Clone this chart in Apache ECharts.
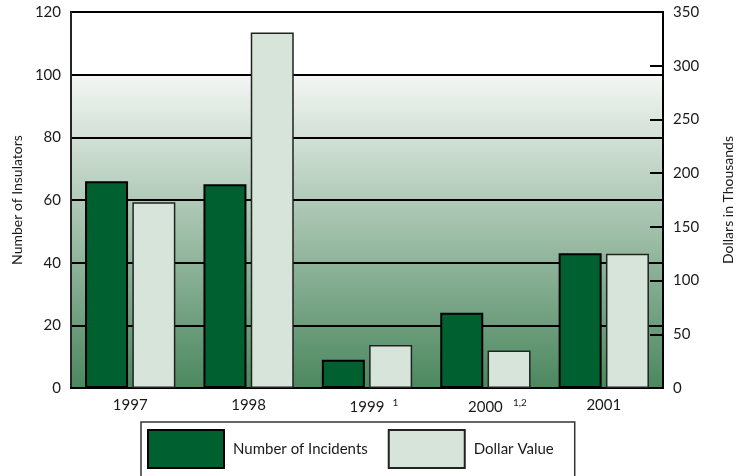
<!DOCTYPE html>
<html>
<head>
<meta charset="utf-8">
<script src="https://cdn.jsdelivr.net/npm/echarts@6/dist/echarts.min.js"></script>
<style>
  html, body { margin: 0; padding: 0; background: #ffffff; }
  #chart { width: 736px; height: 476px; }
</style>
</head>
<body>
<div id="chart"></div>
<script>
// Insulator vandalism by year: count of insulators (left axis) and dollar loss (right axis)
const years = ['1997', '1998', '1999', '2000', '2001'];
const footnotes = ['', '', '1', '1,2', ''];
const incidents = [66, 65, 9, 24, 43];
const dollarValue = [173, 331, 40, 35, 125];
const leftTicks = { min: 0, max: 120, interval: 20 };
const rightTicks = { min: 0, max: 350, interval: 50 };

const FONT = 'Lato';
const TEXT = '#1a1a1a';
const DARK = '#00602f';
const LIGHT = '#d6e4da';

const chart = echarts.init(document.getElementById('chart'), null, { renderer: 'canvas' });

function yearLabel(value, index) {
  const note = footnotes[index];
  if (!note) return value;
  const key = note.length > 1 ? '2' : '1';
  return '{p' + key + '|}' + value + '{s' + key + '|' + note + '}';
}

const supStyle = {
  fontFamily: FONT, fontSize: 10, color: TEXT,
  align: 'right', verticalAlign: 'top', padding: [0, 0, 8, 0]
};

chart.setOption({
  animation: false,
  backgroundColor: '#ffffff',
  textStyle: { fontFamily: FONT, color: TEXT },
  grid: {
    left: 71, top: 12, right: 73, bottom: 88,
    outerBoundsMode: 'none',
    containLabel: false,
    show: true,
    borderColor: '#000',
    borderWidth: 2,
    backgroundColor: {
      type: 'linear', x: 0, y: 0, x2: 0, y2: 1,
      colorStops: [
        { offset: 0, color: '#ffffff' },
        { offset: 0.168, color: '#ffffff' },
        { offset: 0.172, color: '#f3f6f3' },
        { offset: 1, color: '#4b875e' }
      ]
    }
  },
  legend: {
    left: 141, top: 422,
    padding: [7, 21, 40, 6],
    borderColor: '#333',
    borderWidth: 1.5,
    itemWidth: 76, itemHeight: 38, itemGap: 20,
    icon: 'rect',
    textStyle: { fontFamily: FONT, fontSize: 15, color: TEXT, padding: [0, 0, 0, 4] },
    data: ['Number of Incidents', 'Dollar Value']
  },
  xAxis: {
    type: 'category',
    data: years,
    axisLine: { lineStyle: { color: '#000', width: 2 } },
    axisTick: { inside: true, length: 8, interval: 0, lineStyle: { color: '#000', width: 2 } },
    axisLabel: {
      interval: 0,
      margin: 10,
      fontFamily: FONT, fontSize: 15, color: TEXT,
      formatter: yearLabel,
      rich: {
        p1: { width: 14 }, p2: { width: 24 },
        s1: Object.assign({ width: 14 }, supStyle),
        s2: Object.assign({ width: 24 }, supStyle)
      }
    }
  },
  yAxis: [
    {
      type: 'value',
      min: leftTicks.min, max: leftTicks.max, interval: leftTicks.interval,
      name: 'Number of Insulators',
      nameLocation: 'middle', nameGap: 45,
      nameTextStyle: { fontFamily: FONT, fontSize: 14, color: TEXT },
      axisLine: { show: true, lineStyle: { color: '#333', width: 1.5 } },
      axisTick: { show: false },
      axisLabel: { margin: 10, fontFamily: FONT, fontSize: 15, color: TEXT },
      splitLine: { show: true, lineStyle: { color: '#000', width: 2 } }
    },
    {
      type: 'value',
      min: rightTicks.min, max: rightTicks.max, interval: rightTicks.interval,
      name: 'Dollars in Thousands',
      nameLocation: 'middle', nameGap: 58,
      nameTextStyle: { fontFamily: FONT, fontSize: 14, color: TEXT },
      axisLine: { show: true, lineStyle: { color: '#000', width: 2 } },
      axisTick: { show: true, inside: true, length: 13, lineStyle: { color: '#000', width: 2 } },
      axisLabel: { margin: 10, fontFamily: FONT, fontSize: 15, color: TEXT },
      splitLine: { show: false }
    }
  ],
  series: [
    {
      name: 'Number of Incidents',
      type: 'bar',
      yAxisIndex: 0,
      data: incidents,
      barWidth: 43,
      barGap: '10%',
      itemStyle: { color: DARK, borderColor: '#000', borderWidth: 2 }
    },
    {
      name: 'Dollar Value',
      type: 'bar',
      yAxisIndex: 1,
      data: dollarValue,
      barWidth: 43,
      barGap: '10%',
      itemStyle: { color: LIGHT, borderColor: '#222', borderWidth: 1.5 }
    }
  ]
});
</script>
</body>
</html>
